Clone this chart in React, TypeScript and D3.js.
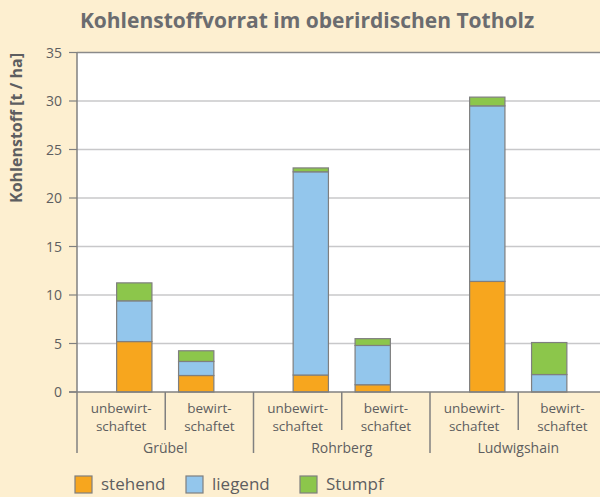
import React from "react";
import * as d3 from "d3";

const groups = ["Grübel", "Rohrberg", "Ludwigshain"];
const subCategories = ["unbewirt-\nschaftet", "bewirt-\nschaftet"];
const seriesNames = ["stehend", "liegend", "Stumpf"];
const seriesColors = ["#F7A61E", "#93C6EC", "#8CC64B"];
// values per bar, in order: Grübel unbew., Grübel bew., Rohrberg unbew., Rohrberg bew., Ludwigshain unbew., Ludwigshain bew.
const stehend = [5.2, 1.7, 1.75, 0.75, 11.4, 0.0];
const liegend = [4.2, 1.45, 20.95, 4.05, 18.1, 1.8];
const stumpf = [1.85, 1.1, 0.4, 0.7, 0.9, 3.3];
const yTicks = [0, 5, 10, 15, 20, 25, 30, 35];
const title = "Kohlenstoffvorrat im oberirdischen Totholz";
const yTitle = "Kohlenstoff [t / ha]";

const W = 600;
const H = 497;
const m = { left: 77, right: -6.5, top: 52.5, bottom: 105 };
const FONT = "'Open Sans', sans-serif";
const TXT = "#5d5e60";

export default function App() {
  const x0 = d3
    .scaleBand<string>()
    .domain(groups)
    .range([m.left, W - m.right])
    .paddingInner(0)
    .paddingOuter(0);
  const x1 = d3
    .scaleBand<string>()
    .domain(subCategories)
    .range([0, x0.bandwidth()])
    .paddingInner(0.43)
    .paddingOuter(0.64);
  const xSub = d3
    .scaleBand<string>()
    .domain(subCategories)
    .range([0, x0.bandwidth()]);
  const y = d3.scaleLinear().domain([0, 35]).range([H - m.bottom, m.top]);

  const data = groups.flatMap((g, gi) =>
    subCategories.map((s, si) => {
      const i = gi * 2 + si;
      return { group: g, sub: s, stehend: stehend[i], liegend: liegend[i], Stumpf: stumpf[i] };
    })
  );
  const stack = d3.stack<any>().keys(seriesNames)(data);

  const plotRight = W;
  const y0 = y(0);

  return (
    <svg width={W} height={H} style={{ position: "absolute", left: 0, top: 0, display: "block" }}>
      <rect x={0} y={0} width={W} height={H} fill="#FDEFD0" />
      <rect x={m.left} y={m.top} width={plotRight - m.left} height={y0 - m.top} fill="#ffffff" />
      {yTicks.map((t) => (
        <g key={t}>
          {t > 0 && t < 35 && (
            <line x1={m.left} x2={plotRight} y1={y(t)} y2={y(t)} stroke="#c8c8ca" strokeWidth={1.5} />
          )}
          <line x1={69} x2={m.left} y1={y(t)} y2={y(t)} stroke="#808080" strokeWidth={1.2} />
          <text x={62} y={y(t)} dy="0.36em" textAnchor="end" fontFamily={FONT} fontSize={14} fill={TXT}>
            {t}
          </text>
        </g>
      ))}
      <line x1={m.left} x2={plotRight} y1={m.top} y2={m.top} stroke="#8a8a8a" strokeWidth={1.5} />
      {stack.map((layer, li) =>
        layer.map((d, i) => {
          const row = data[i];
          const bx = (x0(row.group) as number) + (x1(row.sub) as number);
          const h = y(d[0]) - y(d[1]);
          if (h <= 0) return null;
          return (
            <rect
              key={li + "-" + i}
              x={bx}
              y={y(d[1])}
              width={x1.bandwidth()}
              height={h}
              fill={seriesColors[li]}
              stroke="#7f7f7f"
              strokeWidth={1.2}
            />
          );
        })
      )}
      <line x1={69} x2={plotRight} y1={y0} y2={y0} stroke="#808080" strokeWidth={1.5} />
      <line x1={m.left} x2={m.left} y1={m.top} y2={y0} stroke="#808080" strokeWidth={1.5} />
      {groups.map((g) => {
        const gx = x0(g) as number;
        return (
          <g key={g}>
            <line x1={gx} x2={gx} y1={y0} y2={453} stroke="#808080" strokeWidth={1.5} />
            <line
              x1={gx + xSub.bandwidth()}
              x2={gx + xSub.bandwidth()}
              y1={y0}
              y2={430}
              stroke="#808080"
              strokeWidth={1.5}
            />
            {subCategories.map((s) => {
              const cx = gx + (xSub(s) as number) + xSub.bandwidth() / 2;
              const lines = s.split("\n");
              return (
                <text key={s} textAnchor="middle" fontFamily={FONT} fontSize={13.5} fill={TXT}>
                  {lines.map((l, li) => (
                    <tspan key={li} x={cx} y={413 + li * 17.5}>
                      {l}
                    </tspan>
                  ))}
                </text>
              );
            })}
            <text
              x={gx + x0.bandwidth() / 2}
              y={453}
              textAnchor="middle"
              fontFamily={FONT}
              fontSize={14}
              fill={TXT}
            >
              {g}
            </text>
          </g>
        );
      })}
      <text x={307} y={28} textAnchor="middle" fontFamily={FONT} fontWeight="bold" fontSize={21} fill="#6b6c6f">
        {title}
      </text>
      <text
        transform={`translate(22,128) rotate(-90)`}
        textAnchor="middle"
        fontFamily={FONT}
        fontWeight="bold"
        fontSize={16}
        fill={TXT}
      >
        {yTitle}
      </text>
      {seriesNames.map((s, i) => {
        const lx = [75, 186, 300][i];
        return (
          <g key={s}>
            <rect x={lx} y={476} width={17} height={17} fill={seriesColors[i]} stroke="#7f7f7f" strokeWidth={1.2} />
            <text x={lx + 26} y={490} fontFamily={FONT} fontSize={17} fill={TXT}>
              {s}
            </text>
          </g>
        );
      })}
    </svg>
  );
}
